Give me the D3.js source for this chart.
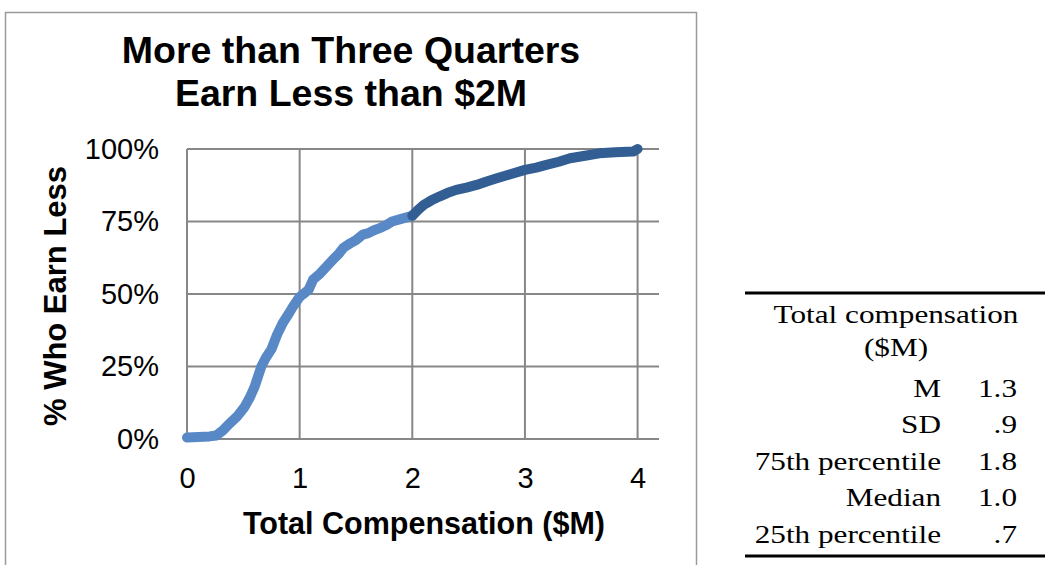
<!DOCTYPE html>
<html>
<head>
<meta charset="utf-8">
<script src="https://cdn.jsdelivr.net/npm/d3@7"></script>
<style>
  html, body { margin: 0; padding: 0; background: #fff; }
  svg { display: block; }
</style>
</head>
<body>
<svg id="chart" width="1045" height="565"></svg>
<script>
// Cumulative distribution of total compensation ($M) vs share earning less (%)
const compensation = [0, 0.1, 0.2, 0.26, 0.32, 0.38, 0.45, 0.51, 0.56, 0.60, 0.63, 0.66, 0.70, 0.75, 0.78, 0.80, 0.85, 0.90, 0.94, 1.00, 1.05, 1.08, 1.12, 1.18, 1.24, 1.30, 1.35, 1.39, 1.45, 1.50, 1.56, 1.61, 1.66, 1.71, 1.77, 1.82, 1.91, 2.00,
  2.05, 2.10, 2.17, 2.24, 2.31, 2.39, 2.48, 2.57, 2.66, 2.75, 2.87, 3.00, 3.10, 3.19, 3.30, 3.40, 3.52, 3.66, 3.80, 3.96, 4.00];
const pctEarnLess = [0.5, 0.7, 0.9, 1.2, 3, 5.4, 8, 11, 14.5, 18, 21.5, 25, 28, 31, 34, 36, 40, 43, 45.6, 49, 50.5, 51.5, 55, 57, 59.5, 62, 64, 66, 67.5, 68.6, 70.5, 71, 72, 72.7, 73.8, 75, 76, 77,
  79, 80.7, 82.3, 83.6, 84.8, 85.9, 86.7, 87.6, 88.8, 89.9, 91.3, 92.8, 93.6, 94.5, 95.6, 96.8, 97.6, 98.5, 98.9, 99.1, 100];
const splitAt = 2;   // compensation where the line changes shade

const xTicks = [0, 1, 2, 3, 4];
const yTicks = [0, 25, 50, 75, 100];
const yTickLabels = ["0%", "25%", "50%", "75%", "100%"];

const titleLines = ["More than Three Quarters", "Earn Less than $2M"];
const xTitle = "Total Compensation ($M)";
const yTitle = "% Who Earn Less";

// Summary table
const tableHeader = ["Total compensation", "($M)"];
const statLabels = ["M", "SD", "75th percentile", "Median", "25th percentile"];
const statValues = ["1.3", ".9", "1.8", "1.0", ".7"];

const svg = d3.select("#chart");
const sans = "'Liberation Sans', Arial, sans-serif";
const serif = "'Liberation Serif', 'Times New Roman', serif";

// Chart frame
svg.append("rect")
  .attr("x", 5.5).attr("y", 12.5).attr("width", 691).attr("height", 600)
  .attr("fill", "#fff").attr("stroke", "#9a9a9a").attr("stroke-width", 1.5);

// Title
const title = svg.append("g").attr("font-family", sans).attr("font-weight", "bold")
  .attr("font-size", 37.5).attr("text-anchor", "middle").attr("fill", "#000");
title.selectAll("text").data(titleLines).join("text")
  .attr("x", 351).attr("y", (d, i) => 63 + i * 43).text(d => d);

// Scales
const x = d3.scaleLinear().domain([0, 4.19]).range([187, 659]);
const y = d3.scaleLinear().domain([0, 100]).range([439, 149]);

// Gridlines
const grid = svg.append("g").attr("stroke", "#878787").attr("stroke-width", 2);
grid.selectAll("line.h").data(yTicks).join("line").attr("class", "h")
  .attr("x1", x(0)).attr("x2", x(4.19)).attr("y1", d => y(d)).attr("y2", d => y(d));
grid.selectAll("line.v").data(xTicks).join("line").attr("class", "v")
  .attr("x1", d => x(d)).attr("x2", d => x(d)).attr("y1", y(0)).attr("y2", y(100));

// Axes (labels only; lines come from the grid)
const xAxis = svg.append("g").attr("transform", `translate(0,${y(0)})`)
  .call(d3.axisBottom(x).tickValues(xTicks).tickFormat(d3.format("d")).tickSize(0).tickPadding(28));
xAxis.select(".domain").remove();
xAxis.selectAll("text").attr("font-family", sans).attr("font-size", 29).attr("fill", "#000");

const yAxis = svg.append("g").attr("transform", `translate(${x(0)},0)`)
  .call(d3.axisLeft(y).tickValues(yTicks).tickFormat((d, i) => yTickLabels[i]).tickSize(0).tickPadding(28));
yAxis.select(".domain").remove();
yAxis.selectAll("text").attr("font-family", sans).attr("font-size", 29).attr("fill", "#000");

// Axis titles
svg.append("text").attr("x", 424).attr("y", 534)
  .attr("font-family", sans).attr("font-weight", "bold").attr("font-size", 30.5)
  .attr("text-anchor", "middle").text(xTitle);
svg.append("text").attr("transform", "translate(66,296) rotate(-90)")
  .attr("font-family", sans).attr("font-weight", "bold").attr("font-size", 31)
  .attr("text-anchor", "middle").text(yTitle);

// Cumulative curve, two shades split at $2M
const pts = compensation.map((c, i) => ({ c, p: pctEarnLess[i] }));
const line = d3.line().x(d => x(d.c)).y(d => y(d.p)).curve(d3.curveLinear);
const segs = [
  { data: pts.filter(d => d.c <= splitAt), color: "#5889c6" },
  { data: pts.filter(d => d.c >= splitAt), color: "#335e93" }
];
svg.append("g").selectAll("path").data(segs).join("path")
  .attr("d", d => line(d.data))
  .attr("fill", "none").attr("stroke", d => d.color)
  .attr("stroke-width", 10).attr("stroke-linejoin", "round").attr("stroke-linecap", "round");

// Summary table
const tbl = svg.append("g").attr("font-family", serif).attr("font-size", 26).attr("fill", "#000");
tbl.append("line").attr("x1", 745).attr("x2", 1045).attr("y1", 293).attr("y2", 293)
  .attr("stroke", "#000").attr("stroke-width", 3);
tbl.append("line").attr("x1", 745).attr("x2", 1045).attr("y1", 556).attr("y2", 556)
  .attr("stroke", "#000").attr("stroke-width", 3);

// the table type is set wide
const stretch = 1.2;
function widen(sel) {
  sel.each(function () {
    const w = this.getComputedTextLength();
    d3.select(this).attr("textLength", w * stretch).attr("lengthAdjust", "spacingAndGlyphs");
  });
}
tbl.selectAll("text.hd").data(tableHeader).join("text").attr("class", "hd")
  .attr("x", 896).attr("y", (d, i) => 323 + i * 33).attr("text-anchor", "middle")
  .text(d => d).call(widen);
const rowY = d3.scalePoint().domain(statLabels).range([396.5, 543]);
tbl.selectAll("text.lab").data(statLabels).join("text").attr("class", "lab")
  .attr("x", 941).attr("y", d => rowY(d)).attr("text-anchor", "end")
  .text(d => d).call(widen);
tbl.selectAll("text.val").data(statValues).join("text").attr("class", "val")
  .attr("x", 1017).attr("y", (d, i) => rowY(statLabels[i])).attr("text-anchor", "end")
  .text(d => d).call(widen);
</script>
</body>
</html>
